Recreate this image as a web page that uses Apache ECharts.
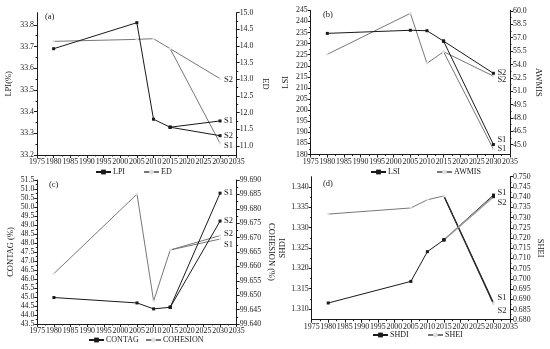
<!DOCTYPE html>
<html><head><meta charset="utf-8">
<script src="https://cdn.jsdelivr.net/npm/echarts@6/dist/echarts.min.js"></script>
<style>html,body{margin:0;padding:0;background:#fff}#c{width:550px;height:349px}</style>
</head><body><div id="c"></div>
<script>
// ---- data ----
const years = [1980, 2005, 2010, 2015];
const scenarioYear = 2030;
const xTicks = [1975, 1980, 1985, 1990, 1995, 2000, 2005, 2010, 2015, 2020, 2025, 2030, 2035];

const lpi = [33.69, 33.81, 33.365, 33.328];
const lpiS1 = 33.357, lpiS2 = 33.289;
const ed = [14.14, 14.2, 14.22, 13.92];
const edS1 = 11.08, edS2 = 13.02;

const lsi = [234.6, 236.0, 235.8, 231.1];
const lsiS1 = 184.5, lsiS2 = 216.6;
const awmis = [55.14, 59.74, 54.13, 55.43];
const awmisS1 = 44.5, awmisS2 = 52.7;

const contag = [44.97, 44.67, 44.34, 44.43];
const contagS1 = 50.77, contagS2 = 49.22;
const cohesion = [99.6575, 99.6851, 99.648, 99.6657];
const cohesionS1 = 99.6695, cohesionS2 = 99.6707;

const shdi = [1.3115, 1.3168, 1.3241, 1.3270];
const shdiS1 = 1.3380, shdiS2 = 1.3376;
const shei = [0.7317, 0.7347, 0.7387, 0.7406];
const sheiS1 = 0.6883, sheiS2 = 0.6877;

const lpiTicks = [33.2, 33.3, 33.4, 33.5, 33.6, 33.7, 33.8];
const edTicks = [11.0, 11.5, 12.0, 12.5, 13.0, 13.5, 14.0, 14.5, 15.0];
const lsiTicks = [180,185,190,195,200,205,210,215,220,225,230,235,240,245];
const awmisTicks = [45.0, 46.5, 48.0, 49.5, 51.0, 52.5, 54.0, 55.5, 57.0, 58.5, 60.0];
const contagTicks = [43.5,44.0,44.5,45.0,45.5,46.0,46.5,47.0,47.5,48.0,48.5,49.0,49.5,50.0,50.5,51.0,51.5];
const cohesionTicks = [99.640,99.645,99.650,99.655,99.660,99.665,99.670,99.675,99.680,99.685,99.690];
const shdiTicks = [1.310, 1.315, 1.320, 1.325, 1.330, 1.335, 1.340];
const sheiTicks = [0.680,0.685,0.690,0.695,0.700,0.705,0.710,0.715,0.720,0.725,0.730,0.735,0.740,0.745,0.750];

// ---- chart ----
const FONT = '"Liberation Serif", "DejaVu Serif", serif';
const INK = '#1a1a1a';
const GRAY = '#777777';

const grids = [
  {left: 37, top: 12.7, width: 199.7, height: 142.3},
  {left: 310.7, top: 10.3, width: 199.3, height: 144.2},
  {left: 37.3, top: 180, width: 199.4, height: 144},
  {left: 311.7, top: 176.7, width: 198.3, height: 143}
];

function mids(t) {
  const m = [];
  for (let i = 0; i < t.length - 1; i++) m.push((t[i] + t[i + 1]) / 2);
  return m;
}

const xAxis = [], yAxis = [];
grids.forEach((g, i) => {
  xAxis.push({
    type: 'value', gridIndex: i, min: xTicks[0], max: xTicks[xTicks.length - 1], interval: 5,
    axisLine: {show: true, lineStyle: {color: INK, width: 1}},
    axisTick: {show: true, length: 3, lineStyle: {color: INK}},
    minorTick: {show: true, splitNumber: 2, length: 1.5, lineStyle: {color: INK}},
    axisLabel: {fontFamily: FONT, fontSize: 7.9, color: INK, margin: 3, formatter: v => String(v), hideOverlap: false},
    splitLine: {show: false}, minorSplitLine: {show: false}
  });
});

function addY(grid, pos, min, max, ticks, dec, name, gap) {
  const idx = yAxis.length;
  yAxis.push({
    type: 'value', gridIndex: grid, position: pos, min: min, max: max,
    name: name, nameLocation: 'middle', nameGap: gap, nameRotate: pos === 'right' ? -90 : 90,
    nameTextStyle: {fontFamily: FONT, fontSize: 8.5, color: INK},
    axisLine: {show: true, lineStyle: {color: INK, width: 1}},
    axisTick: {show: true, length: 3, customValues: ticks, lineStyle: {color: INK}},
    axisLabel: {customValues: ticks, formatter: v => Number(v).toFixed(dec), fontFamily: FONT, fontSize: 7.8, color: INK, margin: 3},
    splitLine: {show: false}
  });
  yAxis.push({
    type: 'value', gridIndex: grid, position: pos, min: min, max: max,
    axisLine: {show: false}, axisLabel: {show: false},
    axisTick: {show: true, length: 1.5, customValues: mids(ticks), lineStyle: {color: INK}},
    splitLine: {show: false}
  });
  return idx;
}

const yA1 = addY(0, 'left', 33.2, 33.856, lpiTicks, 1, 'LPI(%)', 24);
const yA2 = addY(0, 'right', 10.73, 15.0, edTicks, 1, 'ED', 24);
const yB1 = addY(1, 'left', 180, 245, lsiTicks, 0, 'LSI', 20);
const yB2 = addY(1, 'right', 43.9, 60.08, awmisTicks, 1, 'AWMIS', 24);
const yC1 = addY(2, 'left', 43.5, 51.5, contagTicks, 1, 'CONTAG (%)', 22);
const yC2 = addY(2, 'right', 99.64, 99.69, cohesionTicks, 3, 'COHESION (%)', 30);
const yD1 = addY(3, 'left', 1.3074, 1.3425, shdiTicks, 3, 'SHDI', 24);
const yD2 = addY(3, 'right', 0.68, 0.75, sheiTicks, 3, 'SHEI', 26);

const series = [];
function addVar(name, grid, yIdx, vals, s1, s2, dark, opts) {
  opts = opts || {};
  const color = dark ? INK : GRAY;
  const sym = dark ? 'rect' : 'circle';
  const itemStyle = dark ? {color: INK} : {color: '#e2e2e2', borderWidth: 0};
  const base = {
    type: 'line', name: name, xAxisIndex: grid, yAxisIndex: yIdx,
    symbol: sym, symbolSize: dark ? 3 : 2.5, showSymbol: true,
    lineStyle: {color: color, width: 1}, itemStyle: itemStyle, animation: false, z: dark ? 3 : 2
  };
  series.push(Object.assign({}, base, {data: years.map((y, i) => [y, vals[i]])}));
  [[s1, 'S1', opts.o1 || 0, opts.c1], [s2, 'S2', opts.o2 || 0, opts.c2]].forEach(([v, lab, off, col]) => {
    const s = Object.assign({}, base, {
      data: [[years[years.length - 1], vals[vals.length - 1]], [scenarioYear, v]],
      endLabel: {show: true, formatter: lab, fontFamily: FONT, fontSize: 8.5, color: INK, distance: 4, offset: [0, off]}
    });
    if (col) s.lineStyle = Object.assign({}, s.lineStyle, col);
    series.push(s);
  });
}

addVar('LPI', 0, yA1, lpi, lpiS1, lpiS2, true);
addVar('ED', 0, yA2, ed, edS1, edS2, false, {o1: 2, o2: 1});
addVar('LSI', 1, yB1, lsi, lsiS1, lsiS2, true, {o1: -5, o2: -1});
addVar('AWMIS', 1, yB2, awmis, awmisS1, awmisS2, false, {o2: 4});
addVar('CONTAG', 2, yC1, contag, contagS1, contagS2, true);
addVar('COHESION', 2, yC2, cohesion, cohesionS1, cohesionS2, false, {o1: 6, o2: -2});
addVar('SHDI', 3, yD1, shdi, shdiS1, shdiS2, true, {o1: -2, o2: 6, c2: {color: '#9a9a9a', width: 1.6}});
addVar('SHEI', 3, yD2, shei, sheiS1, sheiS2, false, {o1: -5, o2: 7, c1: {color: '#2a2a2a', width: 1.2}, c2: {color: '#2a2a2a', width: 1.2}});

function leg(name, x, y) {
  return {
    data: [name], left: x, top: y - 5, itemWidth: 15, itemHeight: 6, itemGap: 0,
    textStyle: {fontFamily: FONT, fontSize: 8, color: INK, padding: [0, 0, 0, -3]},
    selectedMode: false, padding: 0
  };
}
const legend = [
  leg('LPI', 95, 173), leg('ED', 143, 173),
  leg('LSI', 370, 173), leg('AWMIS', 436, 173),
  leg('CONTAG', 88, 341), leg('COHESION', 145, 341),
  leg('SHDI', 372, 336), leg('SHEI', 427, 336)
];

function tag(t, x, y) {
  return {type: 'text', left: x, top: y, style: {text: t, font: '8.5px ' + FONT, fill: INK}};
}

const chart = echarts.init(document.getElementById('c'), null, {renderer: 'canvas'});
chart.setOption({
  backgroundColor: '#fff', animation: false,
  grid: grids, xAxis: xAxis, yAxis: yAxis, series: series, legend: legend,
  graphic: [tag('(a)', 45, 12), tag('(b)', 323, 10), tag('(c)', 49, 180), tag('(d)', 323, 179)]
});
</script></body></html>
